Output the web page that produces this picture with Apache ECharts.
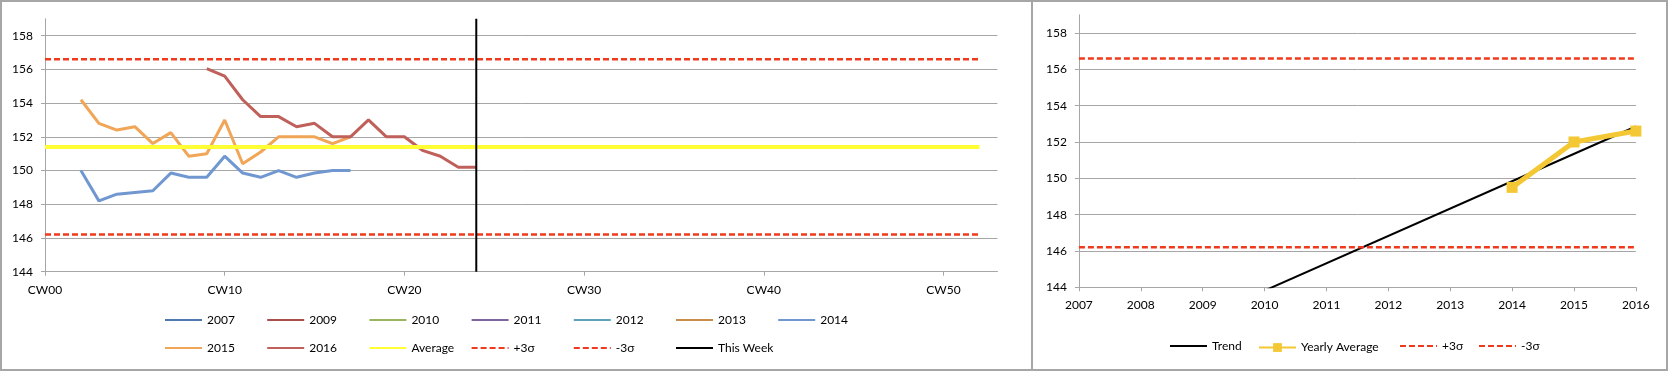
<!DOCTYPE html>
<html><head><meta charset="utf-8">
<script src="https://cdn.jsdelivr.net/npm/echarts@6/dist/echarts.min.js"></script>
<style>html,body{margin:0;padding:0;background:#fff}#c{width:1669px;height:372px}</style>
</head><body><div id="c"></div>
<script>
// ---- categories / tick labels ----
const weeks = ['CW00','CW01','CW02','CW03','CW04','CW05','CW06','CW07','CW08','CW09',
  'CW10','CW11','CW12','CW13','CW14','CW15','CW16','CW17','CW18','CW19',
  'CW20','CW21','CW22','CW23','CW24','CW25','CW26','CW27','CW28','CW29',
  'CW30','CW31','CW32','CW33','CW34','CW35','CW36','CW37','CW38','CW39',
  'CW40','CW41','CW42','CW43','CW44','CW45','CW46','CW47','CW48','CW49',
  'CW50','CW51','CW52','CW53'];
const years = ['2007','2008','2009','2010','2011','2012','2013','2014','2015','2016'];
const yTicks = [144,146,148,150,152,154,156,158];

// ---- weekly series (start week + values) ----
const s2014Start = 2;
const s2014 = [150.0,148.2,148.6,148.7,148.8,149.85,149.6,149.6,150.85,149.85,149.6,150.0,149.6,149.85,150.0,150.0];
const s2015Start = 2;
const s2015 = [154.2,152.8,152.4,152.6,151.6,152.25,150.85,151.0,153.0,150.4,151.1,152.0,152.0,152.0,151.6,152.0];
const s2016Start = 9;
const s2016 = [156.05,155.6,154.2,153.2,153.2,152.6,152.8,152.0,152.0,153.0,152.0,152.0,151.2,150.85,150.2,150.2];

// ---- limit lines ----
const limitWeeks = ['CW00','CW52'];
const average = [151.4,151.4];
const plus3Sigma = [156.6,156.6];
const minus3Sigma = [146.2,146.2];
const thisWeek = ['CW24','CW24'];
const thisWeekRange = [144,159];

// ---- yearly chart ----
const trendYears = ['2007','2016'];
const trend = [139.3,152.85];
const yearlyYears = ['2014','2015','2016'];
const yearlyAvg = [149.5,152.0,152.6];
const sigmaYears = ['2007','2016'];

// ---- legend names ----
const legendRow1 = ['2007','2009','2010','2011','2012','2013','2014'];
const legendRow2 = ['2015','2016','Average','+3σ','-3σ','This Week'];
const legendRight = ['Trend','Yearly Average','+3σ','-3σ'];

const FONT = 'Lato';
const GRID_C = '#a6a6a6';
const SIGMA_C = '#f03a1e';

function fromStart(start, arr){ return arr.map((v,i)=>[start+i, v]); }
function zipXY(xs, ys){ return xs.map((x,i)=>[x, ys[i]]); }

const colors = {
  '2007':'#4f77b0','2009':'#a94e4b','2010':'#9bb55d','2011':'#7d65a0','2012':'#5ea2b9',
  '2013':'#c98e4a','2014':'#7097d0','2015':'#f0a656','2016':'#bf605b'
};
function yearSeries(name, data){
  return {name, type:'line', xAxisIndex:0, yAxisIndex:0, data, symbol:'none', showSymbol:false,
    lineStyle:{width:3, color:colors[name]}, itemStyle:{color:colors[name]}, animation:false, silent:true};
}

const series = [
  yearSeries('2007', []),
  yearSeries('2009', []),
  yearSeries('2010', []),
  yearSeries('2011', []),
  yearSeries('2012', []),
  yearSeries('2013', []),
  yearSeries('2014', fromStart(s2014Start, s2014)),
  yearSeries('2015', fromStart(s2015Start, s2015)),
  yearSeries('2016', fromStart(s2016Start, s2016)),
  {name:'Average', type:'line', xAxisIndex:0, yAxisIndex:0, data:zipXY(limitWeeks, average), symbol:'none',
    lineStyle:{width:4, color:'#ffff33'}, itemStyle:{color:'#ffff33'}, animation:false, silent:true},
  {name:'+3σ', type:'line', xAxisIndex:0, yAxisIndex:0, data:zipXY(limitWeeks, plus3Sigma), symbol:'none',
    lineStyle:{width:2.5, color:SIGMA_C, type:[6,3]}, itemStyle:{color:SIGMA_C}, animation:false, silent:true},
  {name:'-3σ', type:'line', xAxisIndex:0, yAxisIndex:0, data:zipXY(limitWeeks, minus3Sigma), symbol:'none',
    lineStyle:{width:2.5, color:SIGMA_C, type:[6,3]}, itemStyle:{color:SIGMA_C}, animation:false, silent:true},
  {name:'This Week', type:'line', xAxisIndex:0, yAxisIndex:0, data:zipXY(thisWeek, thisWeekRange), symbol:'none',
    lineStyle:{width:2, color:'#000'}, itemStyle:{color:'#000'}, animation:false, silent:true},
  // right chart
  {name:'Trend', type:'line', xAxisIndex:1, yAxisIndex:1, data:zipXY(trendYears, trend), symbol:'none',
    lineStyle:{width:2, color:'#000'}, itemStyle:{color:'#000'}, animation:false, silent:true},
  {name:'Yearly Average', type:'line', xAxisIndex:1, yAxisIndex:1, data:zipXY(yearlyYears, yearlyAvg),
    symbol:'rect', symbolSize:11, showSymbol:true,
    lineStyle:{width:5, color:'#f4c834'}, itemStyle:{color:'#f4c834'}, animation:false, silent:true},
  {name:'+3σ', type:'line', xAxisIndex:1, yAxisIndex:1, data:zipXY(sigmaYears, plus3Sigma), symbol:'none',
    lineStyle:{width:2.5, color:SIGMA_C, type:[6,3]}, itemStyle:{color:SIGMA_C}, animation:false, silent:true},
  {name:'-3σ', type:'line', xAxisIndex:1, yAxisIndex:1, data:zipXY(sigmaYears, minus3Sigma), symbol:'none',
    lineStyle:{width:2.5, color:SIGMA_C, type:[6,3]}, itemStyle:{color:SIGMA_C}, animation:false, silent:true}
];

const legendBase = {padding:0, itemWidth:37, itemHeight:14, itemGap:0, selectedMode:false,
  itemStyle:{opacity:0},
  textStyle:{fontFamily:FONT, fontSize:12, color:'#000'}};
const legends = [];
legendRow1.forEach((n,i)=>legends.push(Object.assign({}, legendBase, {data:[n], left:164+102.2*i, top:314})));
legendRow2.forEach((n,i)=>legends.push(Object.assign({}, legendBase, {data:[n], left:164+102.2*i, top:342})));
const rightLeft = [1169,1258,1399,1478];
legendRight.forEach((n,i)=>{
  const extra = n === 'Yearly Average'
    ? {itemStyle:{opacity:1}, itemHeight:11, top:341.5}
    : {top:340};
  legends.push(Object.assign({}, legendBase, {data:[n], left:rightLeft[i]}, extra));
});

const axisLineStyle = {color:GRID_C, width:1};
const labelStyle = {fontFamily:FONT, fontSize:12, color:'#000'};

const option = {
  backgroundColor:'#fff',
  animation:false,
  legend: legends,
  grid:[
    {left:45, top:18.8, width:952.4, height:252.9, containLabel:false, outerBoundsMode:'none'},
    {left:1078.9, top:14.8, width:557, height:272.5, containLabel:false, outerBoundsMode:'none'}
  ],
  xAxis:[
    {type:'category', gridIndex:0, data:weeks, boundaryGap:false,
      axisLine:{show:true, lineStyle:axisLineStyle},
      axisTick:{show:true, interval:9, length:4, lineStyle:axisLineStyle},
      axisLabel:Object.assign({interval:9, margin:12}, labelStyle),
      splitLine:{show:false}},
    {type:'category', gridIndex:1, data:years, boundaryGap:false,
      axisLine:{show:true, lineStyle:axisLineStyle},
      axisTick:{show:true, length:4, lineStyle:axisLineStyle},
      axisLabel:Object.assign({interval:0, margin:12}, labelStyle),
      splitLine:{show:false}}
  ],
  yAxis:[0,1].map(g=>({type:'value', gridIndex:g, min:144, max:159,
      axisLine:{show:true, lineStyle:axisLineStyle},
      axisTick:{show:true, length:4, lineStyle:axisLineStyle, customValues:yTicks},
      axisLabel:Object.assign({margin:12, customValues:yTicks}, labelStyle),
      splitLine:{show:true, lineStyle:{color:GRID_C, width:1}}})),
  graphic:[
    {type:'rect', shape:{x:1, y:1, width:1031, height:369}, style:{fill:'none', stroke:'#a6a6a6', lineWidth:2}, silent:true, z:-1},
    {type:'rect', shape:{x:1032, y:1, width:635, height:369}, style:{fill:'none', stroke:'#a6a6a6', lineWidth:2}, silent:true, z:-1}
  ],
  series
};
const chart = echarts.init(document.getElementById('c'), null, {renderer:'canvas'});
chart.setOption(option);
</script></body></html>
